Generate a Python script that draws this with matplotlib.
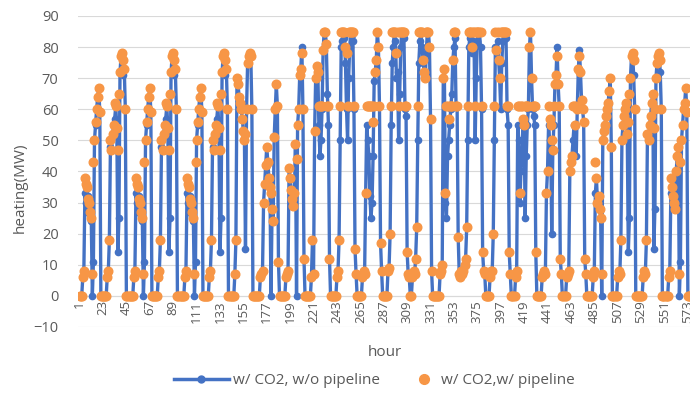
import numpy as np
import matplotlib.pyplot as plt
from matplotlib.lines import Line2D

# hourly heating demand (MW), one row per day (24 h)
heat_no_pipe = [
    0, 0, 0, 6, 8, 33, 30, 27, 32, 28, 26, 24, 0, 11, 50, 55, 60, 64, 67, 59, 0, 0, 0, 0,
    0, 0, 6, 8, 18, 48, 47, 52, 55, 57, 61, 54, 14, 25, 72, 77, 78, 71, 73, 60, 0, 0, 0, 0,
    0, 0, 0, 6, 8, 33, 30, 27, 32, 28, 26, 24, 0, 11, 50, 55, 60, 64, 67, 59, 0, 0, 0, 0,
    0, 0, 6, 8, 18, 48, 47, 52, 55, 57, 61, 54, 14, 25, 72, 77, 78, 71, 73, 60, 0, 0, 0, 0,
    0, 0, 0, 6, 8, 33, 30, 27, 32, 28, 26, 24, 0, 11, 50, 55, 60, 64, 67, 59, 0, 0, 0, 0,
    0, 0, 6, 8, 18, 48, 47, 52, 55, 57, 61, 54, 14, 25, 72, 77, 78, 71, 73, 60, 0, 0, 0, 0,
    0, 0, 7, 18, 70, 68, 64, 62, 60, 57, 53, 50, 15, 60, 75, 77, 78, 77, 60, 0, 0, 0, 0, 0,
    0, 0, 6, 7, 8, 30, 36, 42, 48, 43, 38, 35, 0, 28, 24, 51, 60, 68, 61, 11, 0, 0, 0, 0,
    0, 0, 6, 7, 8, 41, 38, 34, 31, 29, 33, 49, 0, 55, 60, 71, 73, 80, 60, 12, 0, 0, 0, 0,
    0, 0, 6, 18, 7, 53, 70, 74, 72, 55, 45, 50, 60, 79, 85, 85, 81, 65, 55, 12, 0, 0, 0, 0,
    0, 0, 6, 8, 18, 50, 80, 82, 85, 83, 75, 60, 50, 70, 80, 85, 84, 82, 60, 15, 7, 0, 0, 0,
    0, 0, 6, 8, 7, 33, 55, 50, 45, 32, 25, 30, 45, 69, 72, 76, 85, 80, 61, 17, 8, 0, 0, 0,
    0, 0, 8, 9, 20, 55, 75, 80, 85, 82, 70, 72, 50, 65, 80, 85, 85, 83, 60, 58, 14, 7, 6, 0,
    0, 6, 8, 7, 12, 22, 50, 75, 82, 85, 80, 76, 72, 70, 78, 85, 85, 80, 57, 8, 0, 0, 0, 0,
    0, 0, 0, 7, 8, 10, 70, 73, 30, 25, 45, 50, 55, 60, 65, 76, 80, 83, 61, 61, 19, 7, 6, 8,
    7, 8, 10, 12, 22, 50, 80, 83, 85, 78, 82, 80, 50, 70, 82, 85, 85, 80, 60, 14, 8, 7, 0, 0,
    0, 0, 6, 8, 8, 20, 50, 80, 79, 82, 76, 70, 60, 75, 82, 85, 85, 83, 60, 55, 14, 7, 0, 0,
    0, 0, 6, 8, 55, 50, 30, 40, 45, 57, 55, 25, 45, 55, 60, 80, 85, 70, 60, 58, 55, 14, 0, 0,
    0, 0, 0, 6, 7, 8, 7, 33, 40, 55, 50, 48, 20, 47, 55, 68, 71, 80, 68, 61, 12, 7, 0, 0,
    0, 0, 6, 7, 8, 40, 43, 45, 50, 55, 55, 45, 60, 73, 79, 72, 63, 60, 56, 12, 7, 0, 0, 0,
    0, 0, 0, 6, 8, 33, 38, 30, 32, 28, 25, 0, 50, 53, 55, 58, 60, 62, 66, 70, 48, 0, 0, 0,
    0, 0, 6, 8, 7, 18, 50, 55, 58, 60, 62, 52, 14, 25, 70, 77, 78, 71, 60, 0, 0, 0, 0, 0,
    0, 0, 6, 8, 7, 18, 52, 50, 55, 58, 62, 65, 15, 28, 70, 75, 77, 78, 72, 60, 0, 0, 0, 0,
    0, 0, 6, 8, 33, 35, 32, 30, 28, 40, 45, 48, 0, 11, 50, 55, 60, 62, 67, 59, 0, 0, 0, 0,
]

heat_pipe = [
    0, 0, 0, 6, 8, 38, 36, 35, 31, 30, 27, 25, 7, 43, 50, 56, 60, 64, 67, 59, 0, 0, 0, 0,
    0, 0, 6, 8, 18, 50, 47, 52, 55, 62, 61, 54, 47, 65, 72, 77, 78, 76, 73, 60, 0, 0, 0, 0,
    0, 0, 0, 6, 8, 38, 36, 35, 31, 30, 27, 25, 7, 43, 50, 56, 60, 64, 67, 59, 0, 0, 0, 0,
    0, 0, 6, 8, 18, 50, 47, 52, 55, 62, 61, 54, 47, 65, 72, 77, 78, 76, 73, 60, 0, 0, 0, 0,
    0, 0, 0, 6, 8, 38, 36, 35, 31, 30, 27, 25, 7, 43, 50, 56, 60, 64, 67, 59, 0, 0, 0, 0,
    0, 0, 6, 8, 18, 50, 47, 52, 55, 62, 61, 54, 47, 65, 72, 77, 78, 76, 73, 60, 0, 0, 0, 0,
    0, 0, 7, 18, 70, 68, 64, 62, 60, 57, 53, 50, 52, 60, 75, 77, 78, 77, 60, 0, 0, 0, 0, 0,
    0, 0, 6, 7, 8, 30, 36, 42, 48, 43, 38, 35, 33, 28, 24, 51, 60, 68, 61, 11, 0, 0, 0, 0,
    0, 0, 6, 7, 8, 41, 38, 34, 31, 29, 33, 49, 44, 55, 60, 71, 73, 78, 60, 12, 0, 0, 0, 0,
    0, 0, 6, 18, 7, 53, 70, 74, 72, 61, 61, 61, 61, 79, 85, 85, 81, 61, 61, 12, 0, 0, 0, 0,
    0, 0, 6, 8, 18, 61, 85, 85, 85, 85, 80, 78, 61, 85, 85, 85, 85, 85, 61, 15, 7, 0, 0, 0,
    0, 0, 6, 8, 7, 33, 61, 61, 61, 61, 61, 61, 56, 61, 72, 76, 85, 80, 61, 17, 8, 0, 0, 0,
    0, 0, 8, 9, 20, 61, 85, 85, 85, 85, 78, 85, 61, 85, 85, 85, 85, 85, 61, 61, 14, 7, 6, 0,
    0, 6, 8, 7, 12, 22, 61, 85, 85, 85, 85, 76, 72, 70, 85, 85, 85, 80, 57, 8, 0, 0, 0, 0,
    0, 0, 0, 7, 8, 10, 70, 73, 33, 61, 61, 57, 61, 61, 61, 76, 85, 85, 61, 61, 19, 7, 6, 8,
    7, 8, 10, 12, 22, 61, 85, 85, 85, 80, 85, 85, 61, 85, 85, 85, 85, 85, 61, 14, 8, 7, 0, 0,
    0, 0, 6, 8, 8, 20, 61, 85, 79, 85, 76, 70, 85, 85, 85, 85, 85, 85, 61, 61, 14, 7, 0, 0,
    0, 0, 6, 8, 61, 61, 33, 61, 61, 57, 55, 61, 61, 61, 61, 80, 85, 70, 61, 61, 61, 14, 0, 0,
    0, 0, 0, 6, 7, 8, 7, 33, 40, 61, 57, 55, 50, 47, 61, 68, 71, 77, 68, 61, 12, 7, 0, 0,
    0, 0, 6, 7, 8, 40, 43, 45, 61, 61, 55, 61, 60, 73, 77, 72, 63, 60, 56, 12, 7, 0, 0, 0,
    0, 0, 0, 6, 8, 43, 38, 30, 32, 28, 25, 7, 50, 53, 55, 58, 60, 62, 66, 70, 48, 0, 0, 0,
    0, 0, 6, 8, 7, 18, 50, 55, 58, 60, 62, 52, 56, 65, 70, 77, 78, 76, 60, 0, 0, 0, 0, 0,
    0, 0, 6, 8, 7, 18, 52, 50, 55, 58, 62, 65, 54, 60, 70, 75, 77, 78, 76, 60, 0, 0, 0, 0,
    0, 0, 6, 8, 38, 35, 32, 30, 28, 40, 45, 48, 7, 43, 50, 55, 60, 62, 67, 59, 0, 0, 0, 0,
]

hours = np.arange(1, len(heat_pipe) + 1)
tick_hours = list(range(1, 577, 22))

blue = '#4472C4'
orange = '#F79646'
grey_txt = '#595959'

plt.rcParams['font.family'] = ['Open Sans', 'DejaVu Sans']

fig = plt.figure(figsize=(6.9, 3.93), dpi=100)
ax = fig.add_axes([78 / 690, 66 / 393, 612 / 690, 311 / 393])

# the category axis sits on the zero line; move it before styling ticks
for s in ['top', 'right', 'left']:
    ax.spines[s].set_visible(False)
ax.spines['bottom'].set_position(('data', 0))
ax.spines['bottom'].set_color('#D9D9D9')
ax.spines['bottom'].set_zorder(1)

ax.plot(hours, heat_no_pipe, color=blue, lw=2.4, marker='o', ms=4.5,
        mec=blue, mfc=blue, zorder=2)
ax.plot(hours, heat_pipe, ls='none', marker='o', ms=6.2,
        mec=orange, mfc=orange, zorder=3)

ax.set_xlim(-0.5, 575)
ax.set_ylim(-10, 90)
ax.set_yticks(range(-10, 91, 10))
ax.set_xticks(tick_hours)
ax.set_xticklabels([str(h) for h in tick_hours], rotation=90, fontsize=9.5,
                   color=grey_txt)
ax.tick_params(axis='y', labelsize=10.5, colors=grey_txt, length=0, pad=14)
ax.tick_params(axis='x', length=0, pad=3)
ax.grid(axis='y', color='#D9D9D9', lw=0.8, zorder=0)

fig.text(20 / 690, 1 - 188 / 393, 'heating(MW)', rotation=90, ha='center',
         va='center', fontsize=11, color=grey_txt)
fig.text(385 / 690, 1 - 352 / 393, 'hour', ha='center', va='center',
         fontsize=11, color=grey_txt)

# two single-entry legends so each handle gets its own width
leg_y = 1 - 381 / 393
h_line = Line2D([], [], color=blue, lw=2.5, marker='o', ms=5, mfc=blue, mec=blue)
h_dot = Line2D([], [], ls='none', marker='o', ms=7, mfc=orange, mec=orange)
fig.legend([h_line], ['w/ CO2, w/o pipeline'], loc='center left',
           bbox_to_anchor=(160 / 690, leg_y), frameon=False, fontsize=11,
           labelcolor=grey_txt, handlelength=3.6, handletextpad=0.3)
fig.legend([h_dot], ['w/ CO2,w/ pipeline'], loc='center left',
           bbox_to_anchor=(400 / 690, leg_y), frameon=False, fontsize=11,
           labelcolor=grey_txt, handlelength=1.3, handletextpad=0.5)

fig.savefig('out.png', dpi=100)
